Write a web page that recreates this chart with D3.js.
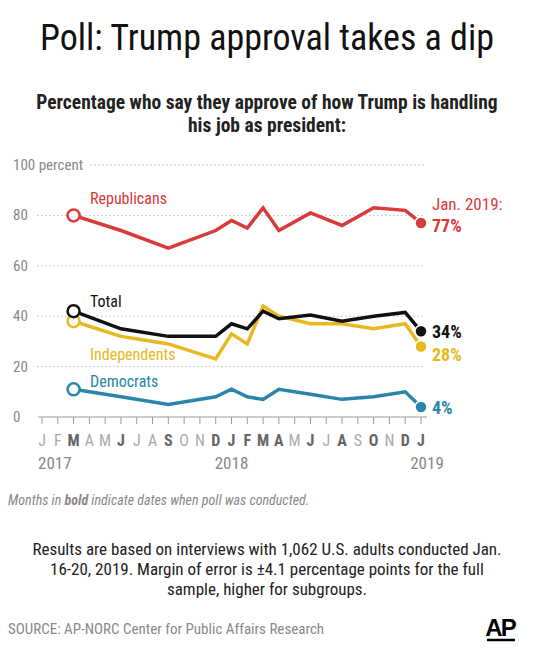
<!DOCTYPE html><html><head><meta charset="utf-8">
<script src="https://cdn.jsdelivr.net/npm/d3@7"></script>
<style>body{margin:0;background:#fff}</style></head><body>
<svg id="c" width="535" height="650"></svg>
<script>
const months=["J","F","M","A","M","J","J","A","S","O","N","D","J","F","M","A","M","J","J","A","S","O","N","D","J"];
const pollIdx=[2,5,8,11,12,13,14,15,17,19,21,23,24];
const republicans=[80,74,67,74,78,75,83,74,81,76,83,82,77];
const total=[42,35,32,32,37,35,42,39,40.5,38,40,41.5,34];
const independents=[38,32,29,23,33,29,44,40,37,37,35,37,28];
const democrats=[11,8,5,8,11,8,7,11,9,7,8,10,4];
const yTicks=[0,20,40,60,80,100];
const years=[["2017",0],["2018",12],["2019",24]];
const F="'Roboto Condensed','Liberation Sans Narrow','Open Sans',sans-serif";
const svg=d3.select("#c").style("font-family",F);
const x=d3.scaleLinear().domain([0,24]).range([42,421]);
const y=d3.scaleLinear().domain([0,100]).range([417,165]);
svg.append("text").attr("x",267).attr("y",50).attr("text-anchor","middle").attr("font-size",36).attr("fill","#111").text("Poll: Trump approval takes a dip");
svg.append("text").attr("x",267).attr("y",109).attr("text-anchor","middle").attr("font-size",19.5).attr("font-weight","bold").attr("fill","#222").text("Percentage who say they approve of how Trump is handling");
svg.append("text").attr("x",267).attr("y",132).attr("text-anchor","middle").attr("font-size",19.5).attr("font-weight","bold").attr("fill","#222").text("his job as president:");
yTicks.forEach(t=>{
  if(t>0) svg.append("line").attr("x1",t==100?90:37).attr("x2",425).attr("y1",y(t)).attr("y2",y(t)).attr("stroke","#bbb").attr("stroke-dasharray","1.5,2.5");
  svg.append("text").attr("x",13).attr("y",y(t)+5).attr("font-size",15).attr("fill","#888").text(t==100?"100 percent":t);
});
svg.append("line").attr("x1",38).attr("x2",427).attr("y1",y(0)).attr("y2",y(0)).attr("stroke","#999");
months.forEach((m,i)=>{
  svg.append("line").attr("x1",x(i)).attr("x2",x(i)).attr("y1",y(0)).attr("y2",y(0)+7).attr("stroke","#999");
  const b=pollIdx.includes(i);
  svg.append("text").attr("x",x(i)).attr("y",446).attr("text-anchor","middle").attr("font-size",16)
   .attr("font-weight",b?"bold":"normal").attr("fill",b?"#666":"#aaa").text(m);
});
years.forEach(([t,i])=>svg.append("text").attr("x",x(i)).attr("y",469).attr("text-anchor",i==0?"start":"middle").attr("dx",i==0?-4:i==24?6:0).attr("font-size",17).attr("fill","#888").text(t));
const series=[[republicans,"#d93a3a"],[independents,"#e8b820"],[total,"#111"],[democrats,"#2a85aa"]];
const line=d3.line().x((d,i)=>x(pollIdx[i])).y(d=>y(d));
series.forEach(([v,c])=>{
  svg.append("path").datum(v).attr("d",line).attr("fill","none").attr("stroke",c).attr("stroke-width",3.5);
  svg.append("circle").attr("cx",x(pollIdx[0])).attr("cy",y(v[0])).attr("r",6).attr("fill","#fff").attr("stroke",c).attr("stroke-width",2.5);
  svg.append("circle").attr("cx",x(24)).attr("cy",y(v[v.length-1])).attr("r",6).attr("fill",c).attr("stroke","#fff").attr("stroke-width",1.5);
});
const lab=(t,xx,yy,c,o={})=>svg.append("text").attr("x",xx).attr("y",yy).attr("font-size",o.s||16).attr("font-weight",o.b?"bold":"normal").attr("fill",c).text(t);
lab("Republicans",90,204,"#d93a3a");
lab("Total",90,307,"#111");
lab("Independents",90,360,"#e8b820");
lab("Democrats",90,387,"#2a85aa");
lab("Jan. 2019:",432,210,"#d93a3a",{s:17});
lab("77%",432,232,"#d93a3a",{s:18,b:1});
lab("34%",432,338,"#111",{s:18,b:1});
lab("28%",432,361,"#e8b820",{s:18,b:1});
lab("4%",432,414,"#2a85aa",{s:18,b:1});
const fn=svg.append("text").attr("x",8).attr("y",505).attr("font-size",14).attr("font-style","italic").attr("fill","#888");
fn.append("tspan").text("Months in ");fn.append("tspan").attr("font-weight","bold").text("bold");fn.append("tspan").text(" indicate dates when poll was conducted.");
["Results are based on interviews with 1,062 U.S. adults conducted Jan.","16-20, 2019. Margin of error is ±4.1 percentage points for the full","sample, higher for subgroups."].forEach((t,i)=>
 svg.append("text").attr("x",267).attr("y",555+i*20).attr("text-anchor","middle").attr("font-size",17).attr("fill","#222").text(t));
svg.append("text").attr("x",8).attr("y",634).attr("font-size",15).attr("fill","#888").text("SOURCE: AP-NORC Center for Public Affairs Research");
svg.append("text").attr("x",500).attr("y",636).attr("font-size",24).attr("font-weight","bold").attr("font-family","'Liberation Sans',sans-serif").attr("fill","#000").attr("text-anchor","middle").attr("letter-spacing",-2).text("AP");
svg.append("line").attr("x1",487).attr("x2",515).attr("y1",640).attr("y2",640).attr("stroke","#000").attr("stroke-width",2.5);
</script></body></html>
